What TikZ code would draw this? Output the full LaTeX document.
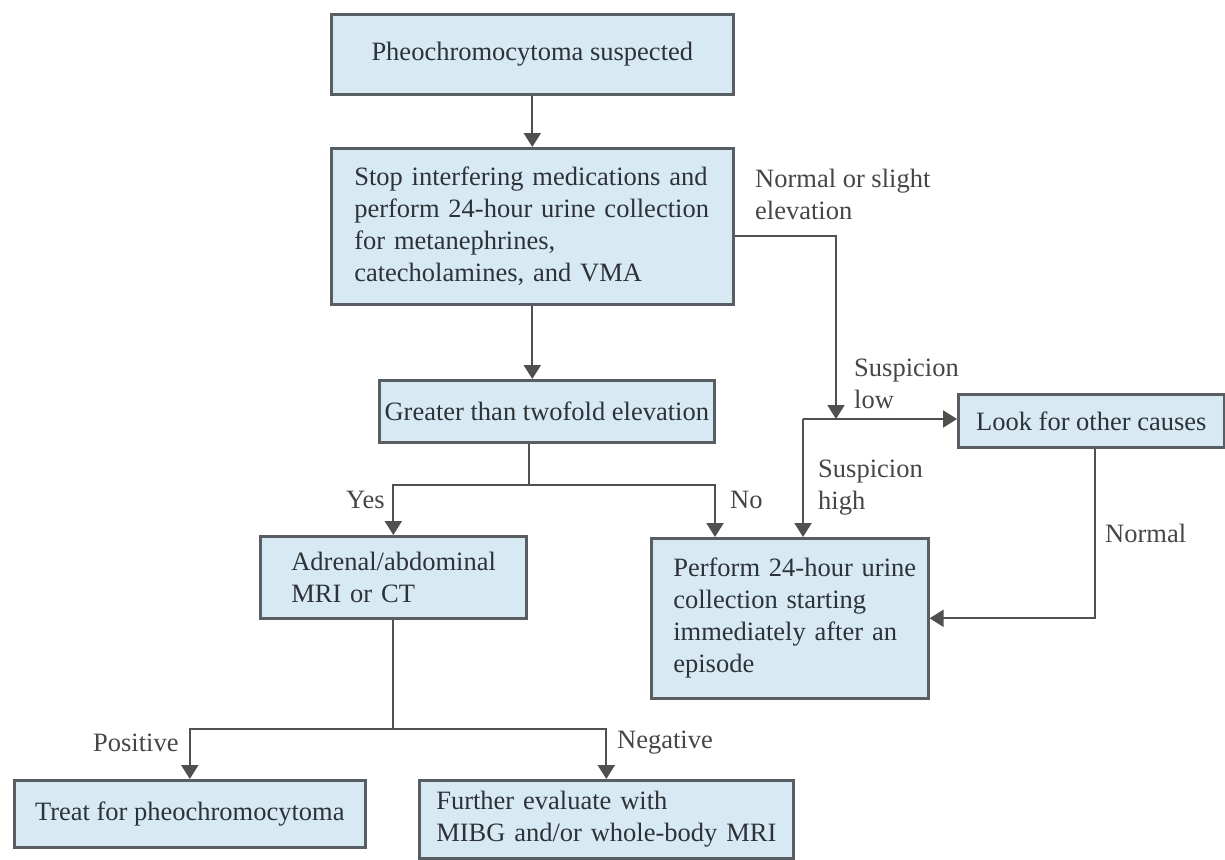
\documentclass[tikz,border=0pt]{standalone}
\usepackage{fontspec}
\setmainfont{Liberation Serif}
\usetikzlibrary{arrows.meta}
\definecolor{boxfill}{RGB}{215,234,243}
\definecolor{boxline}{RGB}{88,94,100}
\definecolor{conn}{RGB}{80,80,80}
\definecolor{txt}{RGB}{45,50,55}
\definecolor{lbl}{RGB}{70,70,70}
\begin{document}
\begin{tikzpicture}[x=1pt,y=-1pt,
  every node/.style={font=\fontsize{26.5}{32}\selectfont},
  fbox/.style={draw=boxline, fill=boxfill, line width=2.6pt, anchor=north west,
    text=txt, inner ysep=0pt},
  cbox/.style={fbox, align=center, inner xsep=0pt},
  lbox/.style={fbox, align=left},
  link/.style={draw=conn, line width=2.2pt},
  arr/.style={link, -{Triangle[width=17pt,length=14pt]}},
  lab/.style={text=lbl, inner sep=0pt, anchor=west, align=left}]
\useasboundingbox (0,0) rectangle (1225,859);
\fill[white] (0,0) rectangle (1225,859);

% boxes
\node[cbox, minimum width=402pt, minimum height=80pt] (b1) at (330,13) {Pheochromocytoma suspected};
\node[lbox, minimum width=402pt, minimum height=156pt, inner xsep=23pt, text width=356pt] (b2) at (330,147)
  {\mbox{Stop interfering medications and}\\\mbox{perform 24-hour urine collection}\\for metanephrines,\\catecholamines, and VMA};
\node[cbox, minimum width=335pt, minimum height=62pt] (b3) at (378,379) {Greater than twofold elevation};
\node[lbox, minimum width=266pt, minimum height=82pt, inner xsep=31pt, text width=204pt] (b4) at (259,535)
  {\mbox{Adrenal/abdominal}\\MRI or CT};
\node[lbox, minimum width=277pt, minimum height=160pt, inner xsep=22pt, text width=233pt] (b5) at (650,537)
  {\mbox{Perform 24-hour urine}\\\mbox{collection starting}\\\mbox{immediately after an}\\episode};
\node[cbox, minimum width=266pt, minimum height=53pt] (b6) at (957,393) {Look for other causes};
\node[cbox, minimum width=351pt, minimum height=67pt] (b7) at (13,779) {Treat for pheochromocytoma};
\node[lbox, minimum width=374pt, minimum height=78pt, inner xsep=17pt, text width=340pt] (b8) at (418,779)
  {\mbox{Further evaluate with}\\\mbox{MIBG and/or whole-body MRI}};

% junction points
\coordinate (j1) at (529,485);
\coordinate (j2) at (836,419);
\coordinate (j3) at (803,419);
\coordinate (j4) at (b4.south |- 0,729);

% connectors
\draw[arr] (b1.south) -- (b2.north);
\draw[arr] (b2.south) -- (b2.south |- b3.north);
\draw[link] (b3.south -| j1) -- (j1);
\draw[arr] (j1) -| (b4.north);
\draw[arr] (j1) -| ([xshift=65pt]b5.north west);
\draw[arr] ([yshift=-10pt]b2.east) -| (j2);
\draw[arr] (j3) -- (j3 -| b6.west);
\draw[arr] (j3) -- (j3 |- b5.north);
\draw[arr] ([xshift=4pt]b6.south) |- (b5.east);
\draw[link] (b4.south) -- (j4);
\draw[arr] (j4) -| (b7.north);
\draw[arr] (j4) -| (b8.north);

% labels
\node[lab] (l1) at (755,194) {Normal or slight\\elevation};
\node[lab] (l2) at (854,384) {Suspicion\\low};
\node[lab] (l3) at (818,488) {Suspicion\\high};
\node[lab] (l4) at (1105,533) {Normal};
\node[lab] (l5) at (346,500) {Yes};
\node[lab] (l6) at (730,500) {No};
\node[lab] (l7) at (93,743) {Positive};
\node[lab] (l8) at (617,743) {Negative};
\end{tikzpicture}
\end{document}
